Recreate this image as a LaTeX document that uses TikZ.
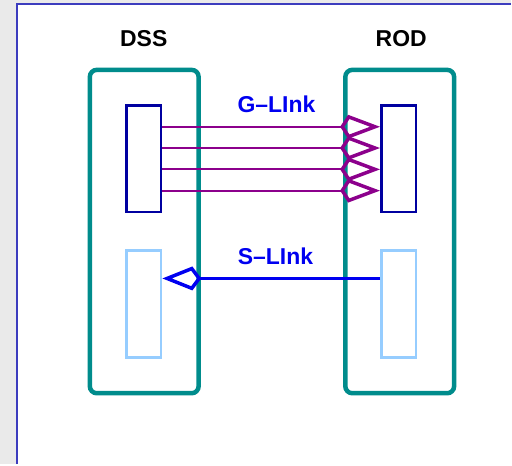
\documentclass[tikz,border=0pt]{standalone}
\usepackage{fontspec}
\setmainfont{Liberation Sans}
\usetikzlibrary{arrows.meta}
\definecolor{boxteal}{RGB}{0,140,140}
\definecolor{chipblue}{RGB}{0,0,160}
\definecolor{paleblue}{RGB}{150,205,255}
\definecolor{linkpurple}{RGB}{140,0,140}
\definecolor{linkblue}{RGB}{0,0,240}
\definecolor{framegray}{RGB}{234,234,234}
\definecolor{frameblue}{RGB}{60,60,190}
\begin{document}
\begin{tikzpicture}[x=1pt, y=-1pt,
  every node/.style={font=\bfseries\fontsize{23}{23}\selectfont},
  crate/.style={draw=boxteal, line width=4.5pt, rounded corners=7pt, minimum width=109pt, minimum height=324pt, inner sep=0pt},
  chip/.style={draw=chipblue, line width=2.5pt, minimum width=35pt, minimum height=107pt, inner sep=0pt},
  spare/.style={draw=paleblue, line width=2.5pt, minimum width=35pt, minimum height=107pt, inner sep=0pt},
  glink/.style={draw=linkpurple, line width=2pt, -{Kite[open, length=40pt, width=24pt, inset=8pt, line width=3.5pt]}},
  slink/.style={draw=linkblue, line width=2.2pt, -{Kite[open, length=39pt, width=24pt, inset=9pt, line width=3.5pt]}}]
  \fill[framegray] (0,0) rectangle (512,465);
  \fill[white] (16,3) rectangle (512,465);
  \draw[frameblue, line width=2pt] (17,465) -- (17,4) -- (512,4);
  % crates
  \node[crate] (dss) at (144.5,232) {};
  \node[crate] (rod) at (400.5,232) {};
  \node (dsslabel) at (144,39) {DSS};
  \node (rodlabel) at (402,39) {ROD};
  % link chips
  \node[chip] (dssG) at (144,159) {};
  \node[chip] (rodG) at (399.5,159) {};
  \node[spare] (dssS) at (144,304.5) {};
  \node[spare] (rodS) at (399.5,304.5) {};
  % G-Link lines
  \foreach \dy in {-32,-10.7,10.7,32}
    \draw[glink] ([yshift=-\dy pt]dssG.east) -- ([yshift=-\dy pt]rodG.west);
  \node[text=linkblue] (glabel) at (277,104) {G--LInk};
  % S-Link line
  \draw[slink] ([yshift=25.5pt]rodS.west) -- ([yshift=25.5pt]dssS.east);
  \node[text=linkblue] (slabel) at (276,257) {S--LInk};
\end{tikzpicture}
\end{document}
